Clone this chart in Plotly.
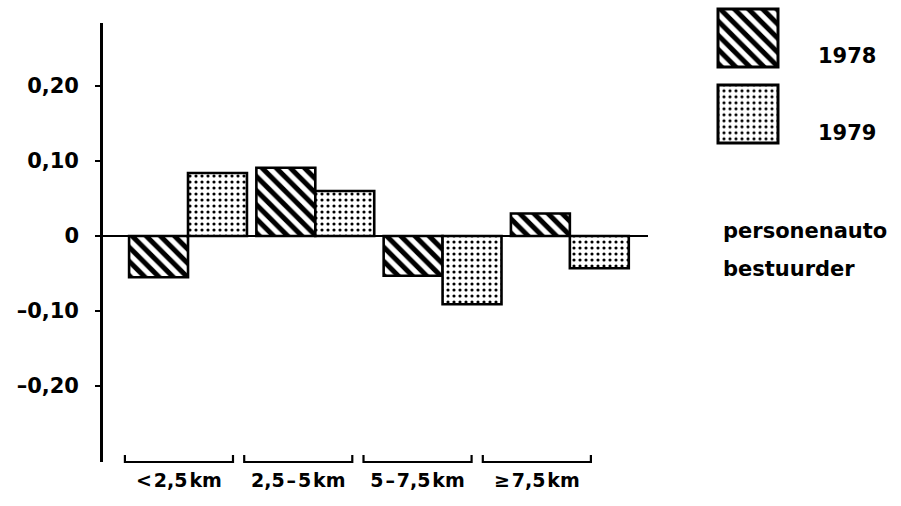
import plotly.graph_objects as go

W, H = 901, 506

categories = ["<\u200a2,5\u200akm", "2,5\u200a–\u200a5\u200akm", "5\u200a–\u200a7,5\u200akm", "≥\u200a7,5\u200akm"]
years = ["1978", "1979"]
values_1978 = [-0.055, 0.091, -0.053, 0.030]
values_1979 = [0.084, 0.060, -0.091, -0.043]
ytick_vals = [0.20, 0.10, 0, -0.10, -0.20]
ytick_text = ["0,20", "0,10", "0", "–0,10", "–0,20"]
side_label = ["personenauto", "bestuurder"]

FONT = "DejaVu Sans"

def px(x):
    return x / W

def py(y):
    return 1 - y / H

hatch = dict(shape="\\", fgcolor="black", bgcolor="white", fgopacity=1, size=10, solidity=0.5)
dots = dict(shape=".", fgcolor="black", bgcolor="white", fgopacity=1, size=6, solidity=0.22)
patterns = [hatch, dots]

xs = list(range(len(categories)))

fig = go.Figure()
for name, vals, pat in zip(years, [values_1978, values_1979], patterns):
    fig.add_trace(go.Bar(
        x=xs, y=vals, name=name, xaxis="x", yaxis="y",
        marker=dict(color="white", pattern=pat, line=dict(color="black", width=2.6)),
        showlegend=False, hoverinfo="skip",
    ))

# legend swatches (drawn as bars on a small inset axis)
for i, (name, pat) in enumerate(zip(years, patterns)):
    fig.add_trace(go.Bar(
        x=[1], y=[len(years) - 1 - i], orientation="h", base=0, width=0.763,
        xaxis="x3", yaxis="y3",
        marker=dict(color="white", pattern=pat, line=dict(color="black", width=3)),
        showlegend=False, hoverinfo="skip",
    ))

# invisible trace to instantiate category label axis
fig.add_trace(go.Scatter(x=xs, y=[0] * len(xs), xaxis="x2", yaxis="y", mode="none",
                         showlegend=False, hoverinfo="skip"))

fig.update_layout(
    width=W, height=H,
    margin=dict(l=0, r=0, t=0, b=0, autoexpand=False),
    paper_bgcolor="white", plot_bgcolor="rgba(0,0,0,0)",
    barmode="group", bargap=0.074, bargroupgap=0,
    font=dict(family=FONT, color="black"),
    xaxis=dict(domain=[px(103), px(648)], range=[-0.668, 3.614], showgrid=False,
               zeroline=False, showline=False, showticklabels=False, ticks="", anchor="y"),
    yaxis=dict(domain=[py(462), py(23)], range=[-0.3013, 0.284], showgrid=False,
               zeroline=True, zerolinecolor="black", zerolinewidth=2.2,
               showline=True, linecolor="black", linewidth=2.6,
               ticks="outside", ticklen=5, tickwidth=2, tickcolor="black",
               tickvals=ytick_vals, ticktext=ytick_text, ticklabelstandoff=12,
               tickfont=dict(family=FONT, size=21, color="black", weight="bold"),
               anchor="x"),
    xaxis2=dict(domain=[px(119.3), px(596.5)], range=[-0.5, 3.5], anchor="free",
                position=py(467), showgrid=False, zeroline=False, showline=False,
                ticks="", tickvals=xs, ticktext=categories,
                tickfont=dict(family=FONT, size=19, color="black", weight="bold")),
    xaxis3=dict(domain=[px(715), px(781)], range=[-0.05, 1.05], visible=False, anchor="y3"),
    yaxis3=dict(domain=[py(148.2), py(3.8)], range=[-0.45, 1.45], visible=False, anchor="x3"),
)

# brackets under each category
shapes = []
half = 0.453
for k in xs:
    shapes.append(dict(
        type="path", xref="x2", yref="paper",
        path=f"M {k - half},{py(455)} L {k - half},{py(462)} L {k + half},{py(462)} L {k + half},{py(455)}",
        line=dict(color="black", width=2.2),
    ))
fig.update_layout(shapes=shapes)

annotations = []
for name, yc in zip(years, [55.5, 133]):
    annotations.append(dict(x=px(846.5), y=py(yc), xref="paper", yref="paper", text=name,
                            showarrow=False, xanchor="center", yanchor="middle",
                            font=dict(family=FONT, size=21, color="black", weight="bold")))
for txt, yc in zip(side_label, [231, 269]):
    annotations.append(dict(x=px(721), y=py(yc), xref="paper", yref="paper", text=txt,
                            showarrow=False, xanchor="left", yanchor="middle",
                            font=dict(family=FONT, size=21, color="black", weight="bold")))
fig.update_layout(annotations=annotations)

fig.write_html("out.html", config={"displayModeBar": False},
               post_script="document.body.style.margin='0';")
